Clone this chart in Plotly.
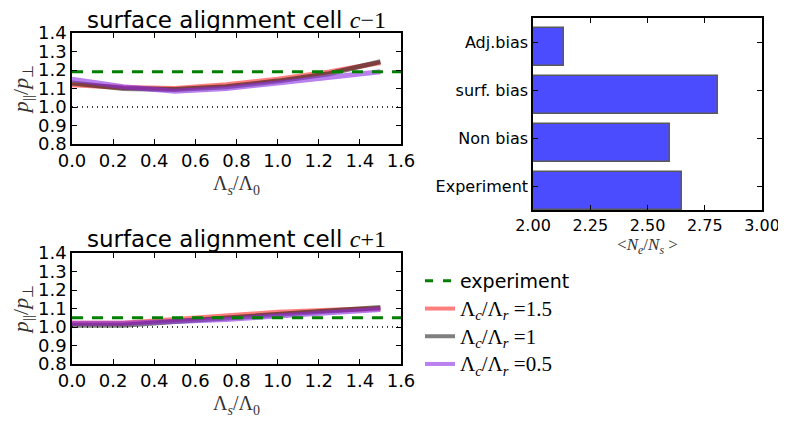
import plotly.graph_objects as go

# ---- data ----
x_ratio = [0.0, 0.25, 0.5, 0.75, 1.0, 1.25, 1.5]
top_r15 = [1.12, 1.105, 1.10, 1.12, 1.15, 1.19, 1.24]
top_r10 = [1.13, 1.10, 1.095, 1.11, 1.14, 1.18, 1.245]
top_r05 = [1.15, 1.11, 1.085, 1.10, 1.13, 1.16, 1.19]
bot_r15 = [1.02, 1.02, 1.04, 1.06, 1.08, 1.09, 1.10]
bot_r10 = [1.01, 1.01, 1.03, 1.05, 1.07, 1.09, 1.105]
bot_r05 = [1.02, 1.02, 1.03, 1.04, 1.06, 1.08, 1.095]
exp_top = 1.19
exp_bot = 1.05
ref_level = 1.0

bar_labels = ["Experiment", "Non bias", "surf. bias", "Adj.bias"]
bar_values = [2.65, 2.60, 2.81, 2.135]

SERIF = "Liberation Serif"
series_names = [
    f"<span style='font-family:{SERIF};font-size:21px'>Λ<sub><i>c</i></sub>/Λ<sub><i>r</i></sub> =1.5</span>",
    f"<span style='font-family:{SERIF};font-size:21px'>Λ<sub><i>c</i></sub>/Λ<sub><i>r</i></sub> =1</span>",
    f"<span style='font-family:{SERIF};font-size:21px'>Λ<sub><i>c</i></sub>/Λ<sub><i>r</i></sub> =0.5</span>",
]
series_colors = ["rgba(255,0,0,0.5)", "rgba(0,0,0,0.5)", "rgba(138,43,226,0.6)"]

SANS = "DejaVu Sans"
OFF = 8                      # page body margin offset
W, H = 786 - OFF, 421 - OFF

fig = go.Figure()

def px_x(a, b):
    return [(a - OFF) / W, (b - OFF) / W]

def px_y(top, bottom):
    return [1 - (bottom - OFF) / H, 1 - (top - OFF) / H]

# line panels
panels = [
    ("x", "y", [top_r15, top_r10, top_r05], exp_top),
    ("x2", "y2", [bot_r15, bot_r10, bot_r05], exp_bot),
]
for xa, ya, ser, expv in panels:
    fig.add_trace(go.Scatter(x=[0, 1.6], y=[ref_level, ref_level], mode="lines",
                             line=dict(color="black", width=1.3, dash="1px,4px"),
                             showlegend=False, xaxis=xa, yaxis=ya, hoverinfo="skip"))
    for vals, name, col in zip(ser, series_names, series_colors):
        fig.add_trace(go.Scatter(x=x_ratio, y=vals, mode="lines", name=name,
                                 line=dict(color=col, width=5),
                                 showlegend=False, xaxis=xa, yaxis=ya))
    fig.add_trace(go.Scatter(x=[0, 1.6], y=[expv, expv], mode="lines", name="experiment",
                             line=dict(color="green", width=3, dash="11px,9px"),
                             showlegend=False, xaxis=xa, yaxis=ya))

# legend-only traces (order: experiment, 1.5, 1, 0.5)
fig.add_trace(go.Scatter(x=[None], y=[None], mode="lines", name="experiment",
                         line=dict(color="green", width=3, dash="8px,10px"),
                         xaxis="x", yaxis="y"))
for name, col in zip(series_names, series_colors):
    fig.add_trace(go.Scatter(x=[None], y=[None], mode="lines", name=name,
                             line=dict(color=col, width=4), xaxis="x", yaxis="y"))

# bar panel
bar_pos = [i + 0.4 for i in range(len(bar_labels))]
tick_pos = [i + 0.5 for i in range(len(bar_labels))]
fig.add_trace(go.Bar(y=bar_pos, x=[v - 2.0 for v in bar_values], base=2.0, orientation="h",
                     width=0.8, marker=dict(color="rgba(0,0,255,0.7)",
                                            line=dict(color="rgb(90,90,90)", width=1.5)),
                     showlegend=False, xaxis="x3", yaxis="y3"))

axis_common = dict(showline=True, linecolor="black", linewidth=1.5, mirror="allticks",
                   ticks="inside", ticklen=5, tickcolor="black", showgrid=False,
                   zeroline=False, automargin=False,
                   tickfont=dict(family=SANS, size=18, color="black"))

xtitle = dict(text="Λ<sub><i>s</i></sub>/Λ<sub>0</sub>", font=dict(family=SERIF, size=20, color="#333"), standoff=6)
ytitle = dict(text="<i>p</i><sub>||</sub>/<i>p</i><sub>⊥</sub>", font=dict(family=SERIF, size=22, color="#333"), standoff=4)

fig.update_layout(
    width=W, height=H, margin=dict(l=0, r=0, t=0, b=0, autoexpand=False),
    paper_bgcolor="white", plot_bgcolor="white",
    xaxis=dict(domain=px_x(72, 401), range=[0, 1.6], dtick=0.2, tickformat=".1f",
               anchor="y", title=xtitle, **axis_common),
    yaxis=dict(domain=px_y(33, 144), range=[0.8, 1.4], dtick=0.1, tickformat=".1f",
               anchor="x", title=ytitle, **axis_common),
    xaxis2=dict(domain=px_x(72, 401), range=[0, 1.6], dtick=0.2, tickformat=".1f",
                anchor="y2", title=xtitle, **axis_common),
    yaxis2=dict(domain=px_y(253, 364), range=[0.8, 1.4], dtick=0.1, tickformat=".1f",
                anchor="x2", title=ytitle, **axis_common),
    xaxis3=dict(domain=px_x(533, 762), range=[2.0, 3.0], dtick=0.25, tickformat=".2f",
                anchor="y3",
                title=dict(text="&lt;<i>N</i><sub><i>e</i></sub>/<i>N</i><sub><i>s</i></sub> &gt;",
                           font=dict(family=SERIF, size=17, color="#333"), standoff=4),
                **{**axis_common, "tickfont": dict(family=SANS, size=16, color="black")}),
    yaxis3=dict(domain=px_y(18, 210), range=[0, 4], tickvals=tick_pos, ticktext=bar_labels,
                anchor="x3",
                **{**axis_common, "tickfont": dict(family=SANS, size=16, color="black")}),
    legend=dict(x=(420 - OFF) / W, y=1 - (262 - OFF) / H, xanchor="left", yanchor="top",
                font=dict(family=SANS, size=19, color="black"), bgcolor="rgba(0,0,0,0)",
                tracegroupgap=0),
    showlegend=True,
    bargap=0,
)

for label, ybox in [("−1", 35), ("+1", 254)]:
    fig.add_annotation(text=f"surface alignment cell <span style='font-family:{SERIF};font-size:24px'><i>c</i>{label}</span>",
                       x=((72 + 401) / 2 - OFF) / W, y=1 - (ybox - OFF) / H, xref="paper", yref="paper",
                       xanchor="center", yanchor="bottom", showarrow=False,
                       font=dict(family=SANS, size=23, color="black"))

fig.write_html("out.html")
